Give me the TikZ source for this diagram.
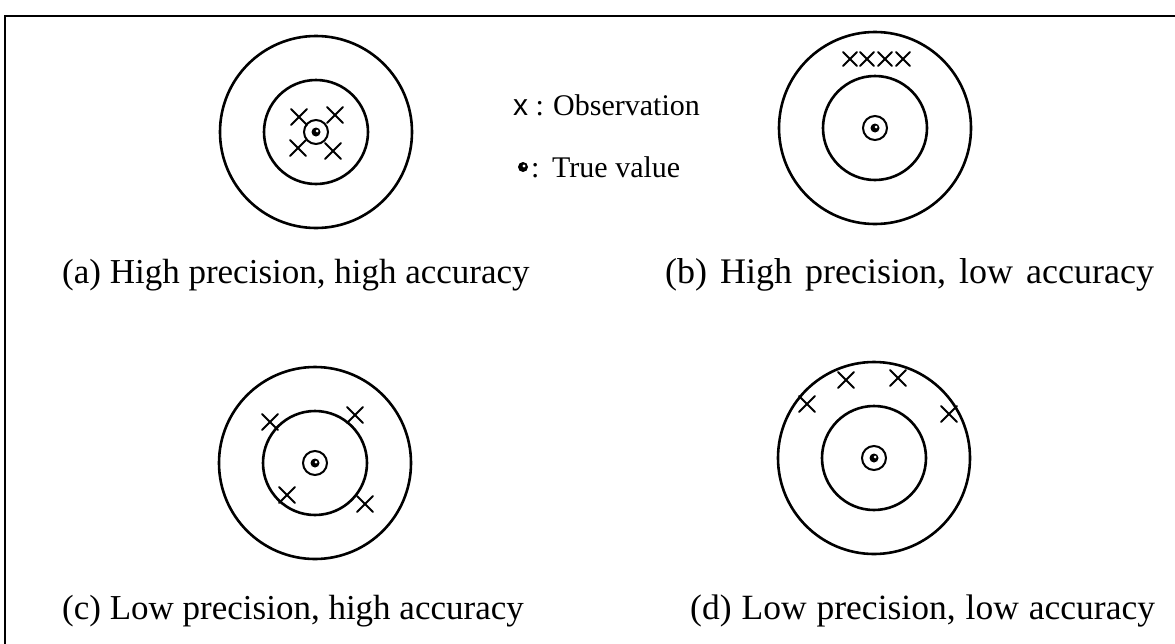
\documentclass[tikz,border=0pt]{standalone}
\usepackage{fontspec}
\setmainfont{Liberation Serif}
\newfontfamily\legsans{Liberation Sans}
\begin{document}
\begin{tikzpicture}[x=1pt,y=-1pt,
  ring/.style={draw=black,line width=2.6pt},
  obsmark/.style={draw=black,line width=2pt,line cap=round},
  caption/.style={anchor=base west,inner sep=0pt,font=\fontsize{35}{40}\selectfont},
  legtext/.style={anchor=base west,inner sep=0pt,font=\fontsize{30}{36}\selectfont}]
\useasboundingbox (0,0) rectangle (1175,643);
% frame
\draw[line width=2.2pt] (5,650) -- (5,16) -- (1180,16);
% targets
\foreach \cx/\cy in {316/132, 875/128, 315/463, 874/458}{
  \draw[ring] (\cx,\cy) circle (96);
  \draw[ring] (\cx,\cy) circle (52);
  \draw[ring,line width=2pt] (\cx,\cy) circle (12);
  \fill[black] (\cx,\cy) circle (4.5);
  \fill[white] (\cx+1,\cy-1) circle (1.5);
}
% observations
\foreach \px/\py/\s in {299/117/8, 335/115/8, 298/148/8, 333/151/8,
  850/59/7, 867/59/7, 885/59/7, 903/59/7,
  270/422/8, 355/415/8, 287/495/8, 365/504/8,
  807/404/8, 846/380/8, 898/378/8, 949/414/8}{
  \draw[obsmark] (\px-\s,\py-\s) -- (\px+\s,\py+\s);
  \draw[obsmark] (\px+\s,\py-\s) -- (\px-\s,\py+\s);
}
% legend
\node[legtext] (legx) at (513,115) {{\legsans x} :};
\node[legtext] (legobs) at (553,115) {Observation};
\fill[black] (523,167) circle (5);
\fill[white] (524,166) circle (1.6);
\node[legtext] (legcol) at (531,177) {:};
\node[legtext] (legtrue) at (552,177) {True value};
% captions
\node[caption] (capa) at (62,283) {(a) High precision, high accuracy};
\node[caption,font=\fontsize{36}{40}\selectfont] (capb) at (665,283) {\spaceskip=13pt (b) High precision, low accuracy};
\node[caption] (capc) at (62,619) {(c) Low precision, high accuracy};
\node[caption,font=\fontsize{35.5}{40}\selectfont] (capd) at (690,619) {\spaceskip=10pt (d) Low precision, low accuracy};
\end{tikzpicture}
\end{document}
